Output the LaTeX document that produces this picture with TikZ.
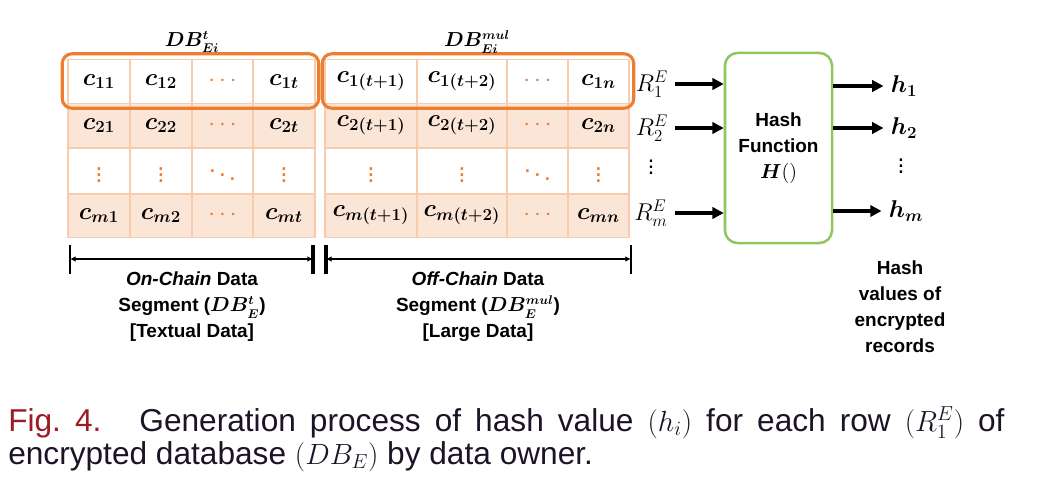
\documentclass[tikz,border=0pt]{standalone}
\usepackage{amsmath}
\usepackage{fontspec}
\setmainfont{Liberation Sans}
\usetikzlibrary{arrows.meta,calc,positioning}

\definecolor{frameorange}{RGB}{237,125,49}
\definecolor{cellfill}{RGB}{251,229,214}
\definecolor{cellline}{RGB}{247,203,172}
\definecolor{hashgreen}{RGB}{146,196,96}
\definecolor{figred}{RGB}{155,28,38}
\definecolor{capink}{RGB}{28,20,38}

\newcommand{\hd}{{\color{frameorange}\cdots}}
\newcommand{\vd}{{\color{frameorange}\vdots}}
\newcommand{\dd}{{\color{frameorange}\ddots}}

\begin{document}
\begin{tikzpicture}[x=0.025cm,y=-0.025cm,
    cell/.style={draw=cellline,line width=1.1pt,inner sep=0pt,
      font=\fontsize{18.5}{21}\selectfont},
    rowframe/.style={draw=frameorange,line width=2.2pt,rounded corners=7pt},
    title/.style={font=\fontsize{13.5}{15}\selectfont},
    rlab/.style={font=\fontsize{16.5}{18}\selectfont,inner sep=1pt},
    hlab/.style={font=\fontsize{17.5}{19}\selectfont,inner sep=1pt},
    hashbox/.style={draw=hashgreen,line width=1.8pt,rounded corners=9pt,
      minimum width=2.675cm,minimum height=4.75cm,align=center,
      font=\fontsize{13.5}{18.5}\selectfont\bfseries},
    seglab/.style={align=center,font=\fontsize{13.5}{18.5}\selectfont\bfseries},
    arr/.style={-{Triangle[length=8pt,width=8pt]},line width=2.3pt,shorten <=4pt},
    dim/.style={{Latex[length=4pt,width=4pt]}-{Latex[length=4pt,width=4pt]},line width=1pt},
    bar/.style={line width=1.2pt},
    caption/.style={anchor=base west,inner sep=0pt,text=capink,
      font=\fontsize{22.5}{26}\selectfont}]
  \useasboundingbox (0,0) rectangle (1052,480);

  % on-chain segment
  \foreach \i/\yc/\bg in {1/81.5/white,2/125.5/cellfill,m/215.5/cellfill} {
    \foreach \j/\xc/\w/\txt in {1/99/62/{$\boldsymbol{c_{\i1}}$},2/161/62/{$\boldsymbol{c_{\i2}}$},
        3/222.5/61/{$\hd$},4/284/62/{$\boldsymbol{c_{\i t}}$}}
      \node[cell,fill=\bg,minimum width={\w*0.025cm},minimum height=1.1cm] (lc-\i-\j) at (\xc,\yc) {\txt};
  }
  \foreach \j/\xc/\w/\txt in {1/99/62/{$\vd$},2/161/62/{$\vd$},3/222.5/61/{$\dd$},4/284/62/{$\vd$}}
    \node[cell,minimum width={\w*0.025cm},minimum height=1.15cm] (lc-3-\j) at (\xc,171) {\txt};

  % off-chain segment
  \foreach \i/\yc/\bg in {1/81.5/white,2/125.5/cellfill,m/215.5/cellfill} {
    \foreach \j/\xc/\w/\txt in {1/371/92/{$\boldsymbol{c_{\i(t+1)}}$},2/462/90/{$\boldsymbol{c_{\i(t+2)}}$},
        3/537.5/61/{$\hd$},4/598.5/61/{$\boldsymbol{c_{\i n}}$}}
      \node[cell,fill=\bg,minimum width={\w*0.025cm},minimum height=1.1cm] (rc-\i-\j) at (\xc,\yc) {\txt};
  }
  \foreach \j/\xc/\w/\txt in {1/371/92/{$\vd$},2/462/90/{$\vd$},3/537.5/61/{$\dd$},4/598.5/61/{$\vd$}}
    \node[cell,minimum width={\w*0.025cm},minimum height=1.15cm] (rc-3-\j) at (\xc,171) {\txt};

  % first record frames
  \draw[rowframe] ($(lc-1-1.north west)+(-5,-5)$) rectangle ($(lc-1-4.south east)+(3,4)$);
  \draw[rowframe] ($(rc-1-1.north west)+(-2,-5)$) rectangle ($(rc-1-4.south east)+(4,4)$);
  \node[title] (dbt) at (192,42) {$\boldsymbol{DB^{t}_{Ei}}$};
  \node[title] (dbmul) at (477,42) {$\boldsymbol{DB^{mul}_{Ei}}$};

  % records into the hash function
  \node[rlab] (r1) at (652,84) {$R^{E}_{1}$};
  \node[rlab] (r2) at (652,128) {$R^{E}_{2}$};
  \node[rlab] (rdots) at (651,163) {$\vdots$};
  \node[rlab] (rm) at (651,213) {$R^{E}_{m}$};
  \node[hashbox] (hash) at (778.5,148) {Hash\\Function\\$\boldsymbol{H}()$};
  \foreach \r in {r1,r2,rm}
    \draw[arr] (\r.east) -- (\r.east -| hash.west);

  % hash values
  \node[hlab] (h1) at (904,86) {$\boldsymbol{h_{1}}$};
  \node[hlab] (h2) at (904,128) {$\boldsymbol{h_{2}}$};
  \node[hlab] (hdots) at (901,162) {$\vdots$};
  \node[hlab] (hm) at (906,211) {$\boldsymbol{h_{m}}$};
  \foreach \h in {h1,h2,hm}
    \draw[arr,shorten <=0pt,shorten >=4pt] (\h.west -| hash.east) -- (\h.west);
  \node[seglab] (hashvals) at (900,307) {Hash\\values of\\encrypted\\records};

  % segment extents
  \coordinate (onL) at (70,259);
  \coordinate (onR) at (313,259);
  \coordinate (offL) at (326,259);
  \coordinate (offR) at (631,259);
  \draw[bar] ($(onL)+(0,-14)$) -- ($(onL)+(0,15)$);
  \draw[bar,line width=2.2pt] ($(onR)+(0,-14)$) -- ($(onR)+(0,15)$);
  \draw[bar,line width=2.2pt] ($(offL)+(0,-14)$) -- ($(offL)+(0,15)$);
  \draw[bar] ($(offR)+(0,-14)$) -- ($(offR)+(0,15)$);
  \draw[dim] (onL) -- (onR);
  \draw[dim] (offL) -- (offR);
  \node[seglab] (onchain) at (192,307) {\textit{On-Chain} Data\\Segment ($\boldsymbol{DB^{t}_{E}}$)\\{[Textual Data]}};
  \node[seglab] (offchain) at (478,307) {\textit{Off-Chain} Data\\Segment ($\boldsymbol{DB^{mul}_{E}}$)\\{[Large Data]}};

  % caption
  \node[caption] (cap1) at (8,431) {\makebox[24.9cm][s]{{\color{figred}Fig.~4.}\hspace{1.2em}Generation process of hash value $(h_i)$ for each row $(R^{E}_{1})$ of}};
  \node[caption] (cap2) at (8,464) {encrypted database $(DB_{E})$ by data owner.};
\end{tikzpicture}
\end{document}
